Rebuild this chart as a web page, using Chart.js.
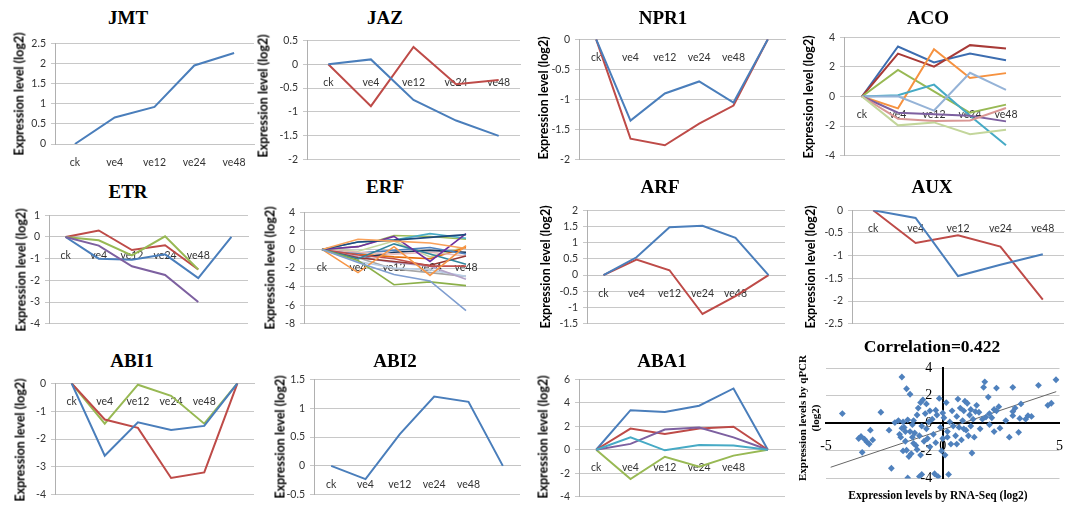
<!DOCTYPE html>
<html>
<head>
<meta charset="utf-8">
<script src="https://cdn.jsdelivr.net/npm/chart.js@4.4.1/dist/chart.umd.min.js"></script>
<style>
body { margin: 0; background: #fff; width: 1070px; height: 506px; position: relative; overflow: hidden; }
canvas { position: absolute; }
.title { position: absolute; font: bold 19px "Liberation Serif", serif; color: #000; transform: translate(-50%, -50%); white-space: nowrap; }
.ytitle { position: absolute; font: bold 12.5px Lato, sans-serif; color: #000; transform: translate(-50%, -50%) rotate(-90deg); white-space: nowrap; }
.stitle { position: absolute; font: bold 11px "Liberation Serif", serif; line-height: 13px; text-align: center; color: #000; white-space: pre; transform: translate(-50%, -50%); }
</style>
</head>
<body>
<script>
// categories
const categories5 = ['ck', 've4', 've12', 've24', 've48'];
const categories6 = ['ck', 've4', 've12', 've24', 've48', ''];

// JMT
const jmtBlue = [0, 0.66, 0.92, 1.95, 2.26];
// JAZ
const jazBlue = [0, 0.1, -0.75, -1.18, -1.5];
const jazRed = [0, -0.88, 0.36, -0.42, -0.33];
// NPR1
const npr1Blue = [0, -1.35, -0.9, -0.7, -1.05, 0];
const npr1Red = [0, -1.65, -1.76, -1.4, -1.1, 0];
// ACO
const acoBlue = [0, 3.38, 2.3, 2.9, 2.45];
const acoRed = [0, 2.9, 2.02, 3.47, 3.25];
const acoGreen = [0, 1.8, 0.35, -1.1, -0.55];
const acoOrange = [0, -0.8, 3.2, 1.25, 1.58];
const acoTeal = [0, 0.08, 0.8, -1.3, -3.3];
const acoLightBlue = [0, 0.02, -0.95, 1.6, 0.45];
const acoPurple = [0, -1.1, -1.2, -1.3, -1.68];
const acoPink = [0, -1.5, -1.65, -1.62, -0.78];
const acoLightGreen = [0, -1.95, -1.75, -2.55, -2.25];
// ETR
const etrRed = [0, 0.3, -0.6, -0.38, -1.5];
const etrGreen = [0, -0.15, -0.85, 0.03, -1.5];
const etrBlue = [0, -1.0, -1.05, -0.8, -1.9, 0];
const etrPurple = [0, -0.4, -1.35, -1.75, -3.0];
// ERF (one row per gene)
const erfSeries = [
  [0, -1.4, -2.7, -3.4, -6.6],
  [0, -1.2, -3.8, -3.5, -3.9],
  [0, -2.5, 0.3, -2.8, 0.4],
  [0, 1.1, 0.9, 0.7, 0.1],
  [0, 0.8, 1.0, 1.3, 1.6],
  [0, 0.3, 1.4, -1.3, 1.7],
  [0, 0.8, 1.0, 1.7, 1.2],
  [0, 0.3, 1.5, 1.4, 1.1],
  [0, -1.0, 0.6, -0.5, -1.6],
  [0, -0.6, -1.0, -1.8, -1.8],
  [0, -0.9, -1.3, -1.7, -0.7],
  [0, -0.3, -0.5, -0.3, -0.7],
  [0, -0.8, -1.4, -1.8, -3.2],
  [0, -1.3, -2.0, -2.2, -2.9],
  [0, -0.4, -0.1, 0.2, -0.5],
  [0, -1.0, -0.3, -0.1, -0.3],
  [0, -0.5, -0.8, -1.0, 0.2],
  [0, -0.2, 0.9, -0.8, 0.3],
  [0, -0.9, -2.1, -2.5, -2.9]
];
const erfColors = ['#7F9ED0', '#8CB04A', '#F79646', '#F9A15A', '#1F497D', '#7030A0', '#4BACC6', '#9BBB59',
  '#31859C', '#C0504D', '#953735', '#E6B9B8', '#B3A2C7', '#B9CDE5', '#4F81BD', '#17375E', '#E46C0A', '#C3D69B', '#A5A5A5'];
// ARF
const arfBlue = [0, 0.55, 1.48, 1.52, 1.15, 0];
const arfRed = [0, 0.48, 0.15, -1.2, -0.65, 0];
// AUX
const auxBlue = [0, -0.17, -1.45, -1.2, -0.97];
const auxRed = [0, -0.72, -0.55, -0.8, -1.97];
// ABI1
const abi1Blue = [0, -2.6, -1.4, -1.68, -1.53, 0];
const abi1Red = [0, -1.3, -1.6, -3.4, -3.2, 0];
const abi1Green = [0, -1.45, -0.05, -0.45, -1.45, 0];
// ABI2
const abi2Blue = [0, -0.23, 0.55, 1.2, 1.11, 0];
// ABA1
const aba1Blue = [0, 3.37, 3.22, 3.75, 5.22, 0];
const aba1Red = [0, 1.8, 1.35, 1.8, 1.96, 0];
const aba1Purple = [0, 0.5, 1.72, 1.9, 1.05, 0];
const aba1Teal = [0, 1.05, -0.05, 0.4, 0.36, 0];
const aba1Green = [0, -2.5, -0.6, -1.45, -0.5, 0];

// correlation: [RNA-Seq log2, qPCR log2]
const scatterPoints = [
  [-4.3, 0.7], [-2.65, 0.8], [-3.5, -0.95], [-3.35, -1.15], [-3.25, -1.35], [-3.1, -0.5], [-3.45, -2.1], [-3.15, -1.5], [-3.6, -1.1], [-3.0, -1.2],
  [-2.3, -0.5], [-2.05, 0.05], [-2.2, -3.25], [-1.75, 3.35], [-1.55, 2.5], [-1.4, 2.1], [-1.5, -3.95], [-1.9, 0.2], [-1.85, -0.8], [-1.8, -1.0],
  [-1.7, 0.1], [-1.65, -0.3], [-1.6, -1.3], [-1.55, -1.95], [-1.7, -2.0], [-1.5, 0.25], [-1.6, -0.6], [-1.75, -0.35],
  [-1.45, -2.4], [-1.35, -2.2], [-1.3, -0.1], [-1.25, 0.2], [-1.2, -0.7], [-1.15, -1.6], [-1.1, 0.6], [-1.05, 1.1], [-1.0, -0.9], [-0.95, 1.5],
  [-0.9, -3.7], [-1.0, -3.85], [-0.95, -2.3], [-0.85, 1.7], [-0.8, -1.3], [-0.75, 0.7], [-0.7, -0.4], [-0.7, 1.4], [-0.65, -1.1], [-0.6, 0.1],
  [-0.55, -1.7], [-0.55, 0.9], [-1.4, -0.6], [-1.3, -1.0], [-0.9, -0.2], [-1.1, -1.9], [-1.25, -1.45],
  [-0.45, 0.3], [-0.4, -0.8], [-0.35, -3.65], [-0.3, -1.4], [-0.25, 0.6], [-0.2, -3.85], [-0.15, 1.8], [-0.1, -0.3], [-0.05, -2.0], [0.0, -1.1],
  [0.05, 0.4], [0.1, -2.3], [0.15, 1.5], [0.2, -0.6], [0.25, -3.7], [0.3, 0.1], [0.35, -1.5], [0.4, 0.9], [0.45, -0.2], [-0.3, 0.95], [0.0, 0.75], [0.2, -1.0],
  [0.55, -0.9], [0.6, 0.5], [0.65, 1.75], [0.7, -0.3], [0.75, 1.1], [0.8, -1.2], [0.85, 0.2], [0.9, 0.9], [0.95, 1.6], [1.0, -0.5],
  [1.05, 1.45], [1.1, -0.9], [1.15, 0.6], [1.2, -0.2], [1.25, -2.15], [1.3, 0.3], [1.35, -1.0], [1.4, 0.85], [1.45, 1.3], [0.6, -1.5], [0.9, -0.4], [1.2, 1.0],
  [1.55, 0.8], [1.6, -0.4], [1.7, 0.3], [1.75, 2.6], [1.8, 3.0], [1.85, 0.45], [1.95, 1.9], [2.0, -0.1], [2.1, 0.4], [2.2, 1.0], [2.3, 0.9], [2.3, 2.55],
  [2.4, 1.2], [2.45, -0.35], [2.0, 0.7], [2.2, -0.6],
  [2.85, -1.0], [3.0, 0.55], [3.0, 2.6], [3.0, 0.85], [3.25, -0.65], [3.3, 0.35], [3.35, 1.4], [3.55, 0.3], [3.65, 0.55], [3.8, 0.5],
  [4.1, 2.75], [4.5, 1.3], [4.65, 1.45], [4.85, 3.15], [2.7, 0.2], [3.1, 1.1]
];
const trendLine = [[-4.8, -3.18], [4.86, 2.29]];

const BLUE = '#4A7EBB', RED = '#BE4B48', GREEN = '#98B954', PURPLE = '#7D60A0', TEAL = '#46AAC5', ORANGE = '#F69240';

Chart.defaults.font.family = 'Lato, sans-serif';

// Excel style numbers: 2 not 2.0
const plainNumber = v => String(Number(v.toFixed(2)));

function addText(cls, text, x, y) {
  const d = document.createElement('div');
  d.className = cls;
  d.textContent = text;
  d.style.left = x + 'px';
  d.style.top = y + 'px';
  document.body.appendChild(d);
  return d;
}

// box = [left, top, right, bottom] of the plot area in page pixels
function linePanel(p) {
  const YW = 34, PT = 10, PR = 6;
  const PB = p.below ? 30 : 10;
  const [L, T, R, B] = p.box;
  const canvas = document.createElement('canvas');
  canvas.width = R - L + YW + PR;
  canvas.height = B - T + PT + PB;
  canvas.style.left = (L - YW) + 'px';
  canvas.style.top = (T - PT) + 'px';
  document.body.appendChild(canvas);
  addText('title', p.title, p.tx, p.ty);
  addText('ytitle', 'Expression level (log2)', p.yx, p.yy);

  new Chart(canvas.getContext('2d'), {
    type: 'line',
    data: {
      labels: p.labels,
      datasets: p.series.map(s => ({
        data: s[0],
        borderColor: s[1],
        borderWidth: p.lineWidth || 2,
        pointRadius: 0,
        tension: 0,
        fill: false
      }))
    },
    options: {
      responsive: false,
      animation: false,
      layout: { padding: { left: 0, top: PT, right: PR, bottom: PB } },
      plugins: { legend: { display: false }, tooltip: { enabled: false } },
      scales: {
        x: {
          position: { y: 0 },
          offset: true,
          grid: { display: false },
          border: { color: '#c4c4c4', width: 1 },
          ticks: { padding: 4, color: '#333', font: { size: 10.5 }, maxRotation: 0, autoSkip: false }
        },
        y: {
          min: p.range[0],
          max: p.range[1],
          grid: { color: '#c8c8c8', tickLength: 4 },
          border: { color: '#b0b0b0' },
          ticks: { stepSize: p.range[2], padding: 5, color: '#333', font: { size: 10.5 }, callback: plainNumber },
          afterFit: s => { s.width = YW; }
        }
      }
    }
  });
}

linePanel({ title: 'JMT', tx: 128, ty: 18, yx: 19, yy: 94, box: [55, 42, 254, 144], below: true,
  labels: categories5, range: [0, 2.5, 0.5], series: [[jmtBlue, BLUE]] });
linePanel({ title: 'JAZ', tx: 385, ty: 18, yx: 263, yy: 96, box: [307, 39, 520, 161],
  labels: categories5, range: [-2, 0.5, 0.5], series: [[jazBlue, BLUE], [jazRed, RED]] });
linePanel({ title: 'NPR1', tx: 663, ty: 18, yx: 543, yy: 98, box: [579, 38, 785, 161],
  labels: categories6, range: [-2, 0, 0.5], series: [[npr1Blue, BLUE], [npr1Red, RED]] });
linePanel({ title: 'ACO', tx: 928, ty: 18, yx: 808, yy: 97, box: [844, 36, 1060, 157],
  labels: categories6, range: [-4, 4, 2],
  series: [[acoLightGreen, '#C3D69B'], [acoPink, '#D99694'], [acoPurple, PURPLE], [acoLightBlue, '#95B3D7'],
    [acoTeal, TEAL], [acoOrange, ORANGE], [acoGreen, GREEN], [acoRed, '#A83A37'], [acoBlue, '#3C6DB0']] });

linePanel({ title: 'ETR', tx: 128, ty: 192, yx: 21, yy: 270, box: [49, 214, 248, 325],
  labels: categories6, range: [-4, 1, 1],
  series: [[etrPurple, PURPLE], [etrBlue, BLUE], [etrGreen, GREEN], [etrRed, RED]] });
linePanel({ title: 'ERF', tx: 385, ty: 187, yx: 270, yy: 268, box: [304, 211, 520, 325], lineWidth: 1.6,
  labels: categories6, range: [-8, 4, 2], series: erfSeries.map((s, i) => [s, erfColors[i]]) });
linePanel({ title: 'ARF', tx: 660, ty: 187, yx: 545, yy: 267, box: [587, 209, 785, 325],
  labels: categories6, range: [-1.5, 2, 0.5], series: [[arfBlue, BLUE], [arfRed, RED]] });
linePanel({ title: 'AUX', tx: 932, ty: 187, yx: 810, yy: 267, box: [852, 209, 1064, 325],
  labels: categories5, range: [-2.5, 0, 0.5], series: [[auxBlue, BLUE], [auxRed, RED]] });

linePanel({ title: 'ABI1', tx: 132, ty: 361, yx: 20, yy: 440, box: [55, 382, 254, 496],
  labels: categories6, range: [-4, 0, 1], series: [[abi1Blue, BLUE], [abi1Red, RED], [abi1Green, GREEN]] });
linePanel({ title: 'ABI2', tx: 395, ty: 361, yx: 280, yy: 437, box: [314, 378, 520, 496],
  labels: categories6, range: [-0.5, 1.5, 0.5], series: [[abi2Blue, BLUE]] });
linePanel({ title: 'ABA1', tx: 662, ty: 361, yx: 543, yy: 437, box: [579, 378, 785, 498],
  labels: categories6, range: [-4, 6, 2],
  series: [[aba1Teal, TEAL], [aba1Purple, PURPLE], [aba1Red, RED], [aba1Green, GREEN], [aba1Blue, BLUE]] });

// Correlation scatter
const sc = document.createElement('canvas');
sc.width = 270;
sc.height = 135;
sc.style.left = '800px';
sc.style.top = '355px';
document.body.appendChild(sc);
const corrTitle = addText('title', 'Correlation=0.422', 932, 346);
corrTitle.style.fontSize = '17.5px';
addText('stitle', 'Expression levels by qPCR\n(log2)', 809, 418).style.transform = 'translate(-50%, -50%) rotate(-90deg)';
addText('stitle', 'Expression levels by RNA-Seq (log2)', 938, 495).style.fontSize = '11.5px';

new Chart(sc.getContext('2d'), {
  type: 'scatter',
  data: {
    datasets: [{
      data: scatterPoints.map(p => ({ x: p[0], y: p[1] })),
      pointStyle: 'rectRot',
      pointRadius: 3.4,
      backgroundColor: '#4F81BD',
      borderColor: '#4F81BD',
      borderWidth: 0
    }, {
      data: trendLine.map(p => ({ x: p[0], y: p[1] })),
      showLine: true,
      borderColor: '#666',
      borderWidth: 1,
      pointRadius: 0
    }]
  },
  options: {
    responsive: false,
    animation: false,
    layout: { padding: { left: 26, top: 13, right: 6, bottom: 11 } },
    plugins: { legend: { display: false }, tooltip: { enabled: false } },
    scales: {
      x: {
        type: 'linear', min: -5, max: 5, position: { y: 0 },
        grid: { display: false },
        border: { color: '#000', width: 2 },
        ticks: { stepSize: 5, padding: 7, color: '#000', font: { family: '"Liberation Serif", serif', size: 14 } }
      },
      y: {
        min: -4, max: 4, position: { x: 0 },
        grid: { color: '#c8c8c8', drawTicks: false },
        border: { color: '#000', width: 2 },
        // labels sit right-aligned on the centre axis; trailing space keeps them off the line
        ticks: { stepSize: 2, color: '#000', font: { family: '"Liberation Serif", serif', size: 14 }, callback: v => v + '\u2002 ' }
      }
    }
  }
});
</script>
</body>
</html>
